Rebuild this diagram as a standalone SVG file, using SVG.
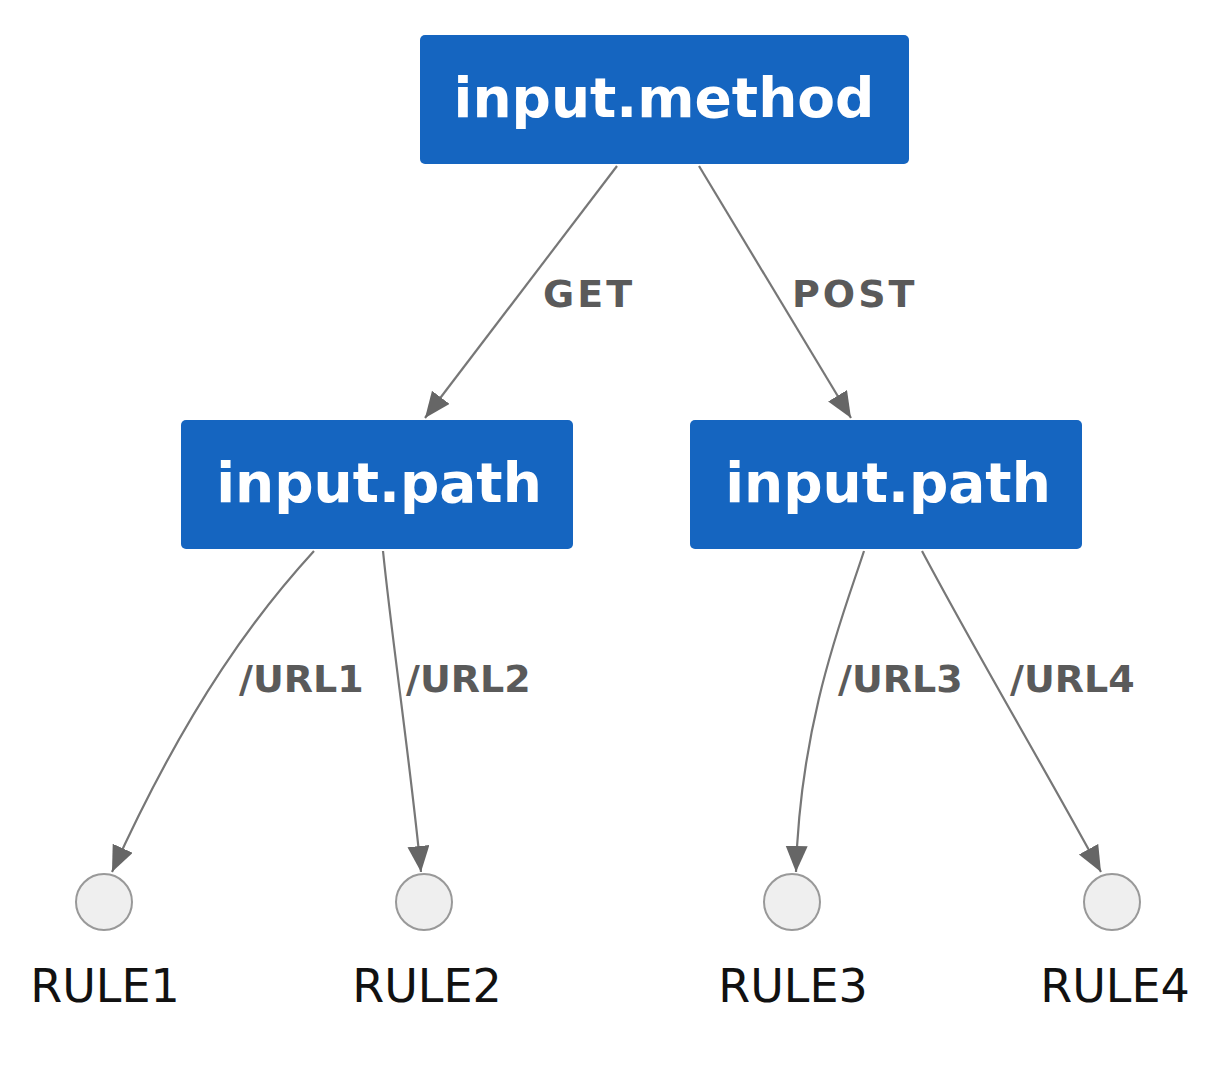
<svg xmlns="http://www.w3.org/2000/svg" width="1213" height="1072" viewBox="0 0 1213 1072">
<style>
.box{fill:#1565c0;}
.ntxt{font-family:"DejaVu Sans",sans-serif;font-weight:bold;font-size:55px;fill:#ffffff;text-anchor:middle;}
.edge{fill:none;stroke:#777777;stroke-width:2.2;}
.elbl{font-family:"DejaVu Sans",sans-serif;font-weight:bold;font-size:38px;fill:#5a5a5a;}
.wide{letter-spacing:3px;}
.leaf{fill:#efefef;stroke:#999999;stroke-width:2;}
.ltxt{font-family:"DejaVu Sans",sans-serif;font-size:46px;fill:#111111;text-anchor:middle;}
</style>
<defs>
<marker id="arr" markerUnits="userSpaceOnUse" markerWidth="28" markerHeight="24" refX="26" refY="11" orient="auto">
<path d="M0,0 L26,11 L0,22 z" fill="#666666"/>
</marker>
</defs>
<rect width="1213" height="1072" fill="#ffffff"/>
<g id="connectors">
<path class="edge" d="M617,166 L425,418" marker-end="url(#arr)"/>
<path class="edge" d="M699,166 L851,418" marker-end="url(#arr)"/>
<path class="edge" d="M314,551 C260,610 190,700 112,872" marker-end="url(#arr)"/>
<path class="edge" d="M383,551 C392,640 410,760 421,872" marker-end="url(#arr)"/>
<path class="edge" d="M864,551 C845,610 800,720 796,872" marker-end="url(#arr)"/>
<path class="edge" d="M922,551 C980,660 1040,760 1101,872" marker-end="url(#arr)"/>
<text class="elbl wide" x="543" y="307">GET</text>
<text class="elbl wide" x="792" y="307">POST</text>
<text class="elbl" x="239" y="692">/URL1</text>
<text class="elbl" x="406" y="692">/URL2</text>
<text class="elbl" x="838" y="692">/URL3</text>
<text class="elbl" x="1010" y="692">/URL4</text>
</g>
<g id="n-method">
<rect class="box" x="420" y="35" width="489" height="129" rx="5"/>
<text class="ntxt" x="664" y="117">input.method</text>
</g>
<g id="n-path-get">
<rect class="box" x="181" y="420" width="392" height="129" rx="5"/>
<text class="ntxt" x="379" y="502">input.path</text>
</g>
<g id="n-path-post">
<rect class="box" x="690" y="420" width="392" height="129" rx="5"/>
<text class="ntxt" x="888" y="502">input.path</text>
</g>
<g id="n-rule1">
<circle class="leaf" cx="104" cy="902" r="28"/>
<text class="ltxt" x="105" y="1002">RULE1</text>
</g>
<g id="n-rule2">
<circle class="leaf" cx="424" cy="902" r="28"/>
<text class="ltxt" x="427" y="1002">RULE2</text>
</g>
<g id="n-rule3">
<circle class="leaf" cx="792" cy="902" r="28"/>
<text class="ltxt" x="793" y="1002">RULE3</text>
</g>
<g id="n-rule4">
<circle class="leaf" cx="1112" cy="902" r="28"/>
<text class="ltxt" x="1115" y="1002">RULE4</text>
</g>
</svg>
